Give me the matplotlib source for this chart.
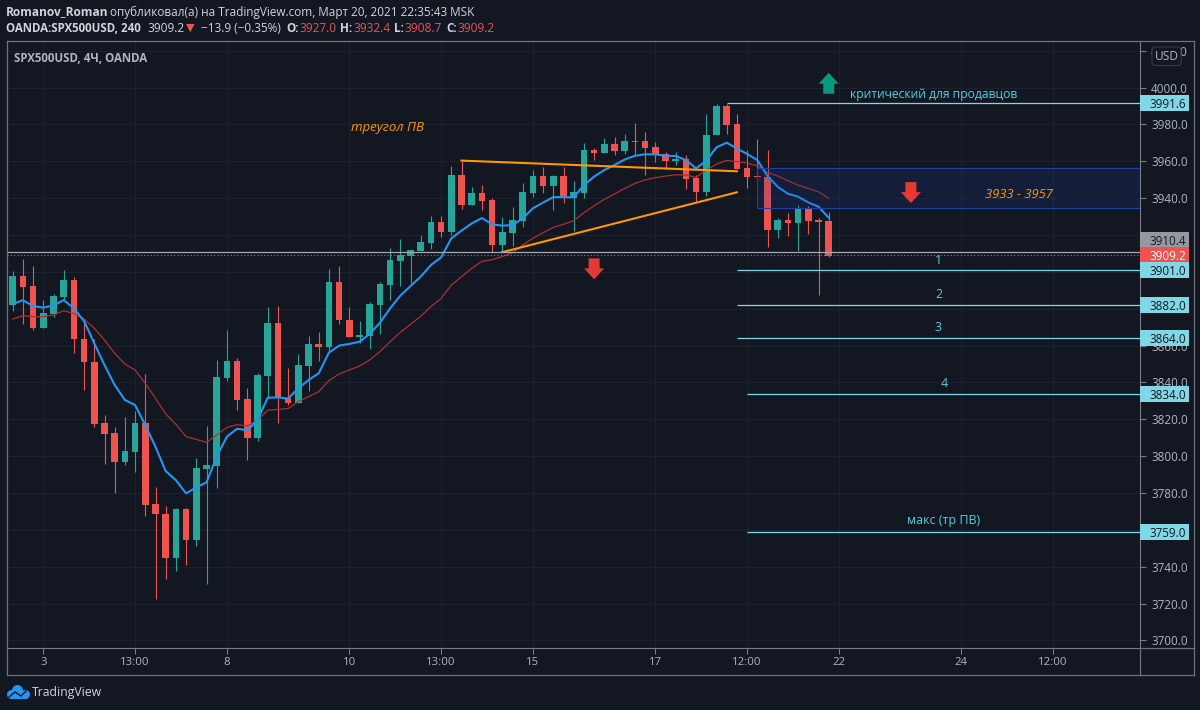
import matplotlib
matplotlib.use('Agg')
from matplotlib import pyplot as plt
from matplotlib.patches import Rectangle, FancyBboxPatch, Polygon, Circle
from matplotlib.transforms import blended_transform_factory

# свечи SPX500USD 4H
opens = [3882, 3897.8, 3892.2, 3869.5, 3877.1, 3886.5, 3895.8, 3863.6, 3851.1, 3818,
         3812.4, 3797, 3802.2, 3818, 3773.8, 3768.8, 3744.9, 3771.5, 3754.7, 3793.2,
         3794.8, 3842.6, 3851.8, 3831, 3810, 3843.7, 3872.1, 3831.4, 3829, 3849.1,
         3860.7, 3859, 3894.3, 3873.9, 3864.7, 3865.4, 3882, 3892.9, 3905.7, 3908.8,
         3911.3, 3915.7, 3926.9, 3921.8, 3952.8, 3936.3, 3942.8, 3938.8, 3914.8, 3921.3,
         3927.6, 3943, 3951.9, 3946.8, 3951.9, 3939.9, 3943, 3966.1, 3964.3, 3969.4,
         3965.6, 3971, 3971, 3967.8, 3964, 3960.2, 3961.2, 3950.8, 3943.5, 3974.1,
         3990, 3980.2, 3956.2, 3951.8, 3951.7, 3922.7, 3928.3, 3926.3, 3934.1, 3928,
         3927.4]
highs = [3900.5, 3906.8, 3903, 3884.7, 3887.8, 3900.8, 3897.2, 3874.4, 3863.6, 3822.1,
         3815.6, 3821.2, 3824.3, 3844.6, 3783.4, 3773.1, 3772, 3772, 3798.8, 3816.5,
         3852.2, 3868.5, 3853.3, 3836.8, 3844.9, 3880.8, 3881.5, 3847.6, 3855.4, 3865.2,
         3867.4, 3901.4, 3903.2, 3880.8, 3873.5, 3883.7, 3894.7, 3912.8, 3918, 3912.2,
         3920, 3930.5, 3930.3, 3957.3, 3960.4, 3945.9, 3947.2, 3940.3, 3929.6, 3935,
         3948, 3955.3, 3956.9, 3952.8, 3956.9, 3949.1, 3969.7, 3967, 3972.5, 3973.4,
         3974.8, 3980.6, 3976, 3970.5, 3965.2, 3965.2, 3963.4, 3952.6, 3985.7, 3990.9,
         3990.9, 3985.5, 3966.1, 3971.9, 3966.1, 3929.2, 3932.1, 3936.3, 3935.7, 3929,
         3932.4]
lows = [3879, 3871.5, 3868.4, 3869.5, 3875.7, 3884.7, 3856.2, 3835.9, 3815.6, 3795.9,
        3780, 3795.4, 3791.4, 3767.5, 3722.5, 3733.3, 3737.8, 3741.1, 3751.4, 3730.8,
        3782.5, 3841, 3825, 3798.1, 3808.4, 3832.3, 3818.2, 3827.9, 3829, 3835.4,
        3851.6, 3856.7, 3871.5, 3864.8, 3861.2, 3858.1, 3866.3, 3884.7, 3892.3, 3893.8,
        3911.3, 3912.4, 3918.7, 3920, 3934.3, 3936.3, 3933.6, 3911, 3910.6, 3914,
        3924.5, 3940.8, 3943, 3933.6, 3937.4, 3922.2, 3940.3, 3960.7, 3964.3, 3963.4,
        3963.8, 3962.9, 3952.6, 3959.8, 3956.2, 3958, 3944.8, 3938.1, 3941.4, 3974.1,
        3974.8, 3955.8, 3945.7, 3951.3, 3913.7, 3918.2, 3919.6, 3911.3, 3920.6, 3887.6,
        3908.2]
closes = [3897.8, 3891.8, 3869.5, 3877.5, 3886.9, 3895.8, 3863.4, 3850.9, 3817.6, 3812.2,
          3797, 3802.6, 3818, 3773.7, 3768.6, 3744.9, 3771.5, 3754.7, 3793.7, 3795.2,
          3843, 3851.8, 3830.6, 3810, 3844, 3872.1, 3831.9, 3829, 3849.6, 3860.7,
          3859, 3894.3, 3873.7, 3864.8, 3865.6, 3882.4, 3893.2, 3906.3, 3909.2, 3911.9,
          3916, 3926.9, 3921.8, 3952.8, 3936.3, 3942.8, 3938.5, 3914.6, 3921.6, 3928,
          3943.4, 3951.9, 3946.8, 3951.9, 3940.8, 3943.4, 3966.1, 3964.3, 3969.4, 3965.6,
          3971, 3970.5, 3967.2, 3963.4, 3960.2, 3961.2, 3950.2, 3943.5, 3974.5, 3990,
          3979.9, 3955.8, 3951.3, 3951.3, 3922.7, 3928.3, 3926.3, 3934.1, 3927.4, 3926.9,
          3908.8]

ma_fast = [3882.6, 3884.6, 3881.5, 3880.6, 3881.8, 3884.7, 3880.2, 3873.3, 3861.2, 3849.5,
           3838.6, 3830.5, 3827.7, 3816.9, 3805.1, 3791.9, 3787, 3779.8, 3783.1, 3785.8,
           3799.7, 3810.6, 3814.9, 3814, 3819.6, 3831.7, 3831.9, 3831.3, 3836.8, 3841.3,
           3845, 3856.2, 3860, 3860.9, 3862.1, 3866.3, 3872.4, 3880.2, 3887.1, 3892.3,
           3897.4, 3903.7, 3907.9, 3918.2, 3922.4, 3926.3, 3929.2, 3925.8, 3925.1, 3925.4,
           3929, 3934.5, 3937.6, 3940.6, 3940.5, 3940.5, 3947.1, 3951.7, 3955.3, 3958,
           3961, 3963, 3963.8, 3963.8, 3963, 3962.9, 3960.7, 3956.2, 3960.3, 3967.6,
           3970.1, 3967, 3964, 3960.7, 3952, 3946.2, 3942.4, 3940.8, 3937.7, 3935.4,
           3929.4]
ma_slow = [3874.4, 3876.2, 3875.7, 3875.7, 3876.6, 3878.9, 3877.5, 3874.4, 3869.4, 3863,
           3855.8, 3850, 3846.7, 3839.5, 3831.4, 3822.9, 3817.3, 3810.6, 3809.1, 3807.5,
           3811.5, 3815.6, 3817.1, 3816.4, 3819.6, 3824.9, 3825.4, 3825.8, 3829.6, 3832.3,
           3835, 3841, 3844.6, 3846.8, 3848.9, 3852.2, 3856.7, 3862.1, 3867.2, 3871.5,
           3876, 3881.1, 3885.6, 3892.9, 3897.4, 3901.9, 3905.7, 3906.6, 3908.3, 3910.4,
           3914.6, 3918.2, 3921.3, 3924.2, 3925.8, 3927.8, 3932.1, 3935.9, 3939.4, 3942.3,
           3945.3, 3948, 3949.9, 3951.1, 3952, 3952.7, 3952.6, 3951.3, 3955.3, 3958.5,
           3960.5, 3959.8, 3959.1, 3957.5, 3954, 3952, 3949.5, 3947.1, 3945.3, 3943.5,
           3939.9]

# подписи осей
x_tick_pos = [3, 12, 21, 33, 42, 51, 63, 72, 81, 93, 102]
x_tick_labels = ['3', '13:00', '8', '10', '13:00', '15', '17', '12:00', '22', '24', '12:00']
y_ticks = list(range(3700, 4021, 20))
y_hidden = [3760, 3880, 3900, 3920]  # полностью под плашками

# уровни: цена, с какой свечи начинается линия
levels = [3991.6, 3901.0, 3882.0, 3864.0, 3834.0, 3759.0]
level_start = [70, 71, 71, 71, 72, 72]
level_names = ['критический для продавцов', '1', '2', '3', '4', 'макс (тр ПВ)']

BG = '#131722'
GRID = '#1c212e'
AXIS = '#787b86'
TXT = '#b2b5be'
GREEN = '#26a69a'
RED = '#ef5350'
CYAN = '#80d8e6'
LABEL = '#4dd0e1'
ORANGE = '#ff9800'
HEAD = '#d1d4dc'

plt.rcParams['font.family'] = ['Open Sans', 'DejaVu Sans']

W, H = 1200, 710
fig = plt.figure(figsize=(W / 100, H / 100), dpi=100, facecolor=BG)

# слой в пикселях для шапки, рамки и логотипа
over = fig.add_axes([0, 0, 1, 1], zorder=5)
over.set_xlim(0, W)
over.set_ylim(H, 0)
over.axis('off')
over.patch.set_alpha(0)

LEFT, RIGHT, TOP, BOTTOM = 7, 1140, 41, 648
ax = fig.add_axes([LEFT / W, 1 - BOTTOM / H, (RIGHT - LEFT) / W, (BOTTOM - TOP) / H], facecolor=BG, zorder=1)
px_per_bar = 10.2
ax.set_xlim((LEFT - 12.7) / px_per_bar, (RIGHT - 12.7) / px_per_bar)
ax.set_ylim(3695.9, 4025.3)

for y in y_ticks:
    ax.axhline(y, color=GRID, lw=0.8, zorder=0)
for x in x_tick_pos:
    ax.axvline(x, color=GRID, lw=0.8, zorder=0)

idx = list(range(len(opens)))
colors = [GREEN if c >= o else RED for o, c in zip(opens, closes)]
ax.vlines(idx, lows, highs, colors=colors, lw=0.8, zorder=2)
ax.bar(idx, [max(abs(c - o), 0.8) for o, c in zip(opens, closes)],
       bottom=[min(o, c) for o, c in zip(opens, closes)],
       width=0.66, color=colors, lw=0, zorder=3)

ax.plot(idx, ma_slow, color='#a93232', lw=0.9, zorder=4)
ax.plot(idx, ma_fast, color='#2196f3', lw=1.5, zorder=5)

# зона продаж
ax.add_patch(Rectangle((73, 3934.5), 120, 21.7, facecolor='#1d3fa6', alpha=0.18, lw=0, zorder=6))
ax.hlines([3934.5, 3956.2], 73, 193, color='#1f3fae', lw=0.8, zorder=6)
ax.vlines(73, 3934.5, 3956.2, color='#1f3fae', lw=0.8, zorder=6)

# треугольник
ax.plot([44, 71], [3960.4, 3954.6], color=ORANGE, lw=1.5, zorder=7)
ax.plot([48, 71], [3910.7, 3943.2], color=ORANGE, lw=1.5, zorder=7)

# текущая цена
ax.axhline(3910.6, color='#a5a8b1', lw=0.9, zorder=7)
ax.axhline(3909.1, color=RED, lw=0.8, ls=(0, (1, 2)), zorder=7)

for price, start in zip(levels, level_start):
    ax.hlines(price, start, 193, color=CYAN, lw=0.9, zorder=7)


def arrow(x, y, color, up):
    # x в барах, y в цене центра стрелки
    sx = 1 / px_per_bar
    sy = 1 / 1.843
    d = 1 if up else -1
    pts = [(-5.5, -10), (5.5, -10), (5.5, 0), (10, 0), (0, 11), (-10, 0), (-5.5, 0)]
    ax.add_patch(Polygon([(x + p * sx, y + d * q * sy) for p, q in pts],
                         closed=True, facecolor=color, lw=0, zorder=8))


arrow(80, 4002.1, '#089981', True)
arrow(88.06, 3943.3, '#e53935', False)
arrow(57, 3901.9, '#e53935', False)

ax.text(82.1, 3996.5, level_names[0], color=LABEL, fontsize=8.7, va='center', zorder=8)
ax.text(33.2, 3978.6, 'треугол ПВ', color=ORANGE, fontsize=9.5, style='italic', va='center', zorder=8)
ax.text(95.3, 3942.2, '3933 - 3957', color=ORANGE, fontsize=9.4, style='italic', va='center', zorder=8)
ax.text(90.8, 3906.2, level_names[1], color=LABEL, fontsize=9, ha='center', va='center', zorder=8)
ax.text(90.8, 3887.8, level_names[2], color=LABEL, fontsize=9, ha='center', va='center', zorder=8)
ax.text(90.7, 3869.9, level_names[3], color=LABEL, fontsize=9, ha='center', va='center', zorder=8)
ax.text(91.3, 3839.5, level_names[4], color=LABEL, fontsize=9, ha='center', va='center', zorder=8)
ax.text(91.3, 3765.2, level_names[5], color=LABEL, fontsize=9, ha='center', va='center', zorder=8)

ax.set_xticks(x_tick_pos)
ax.set_xticklabels(x_tick_labels)
ax.set_yticks(y_ticks)
ax.set_yticklabels(['' if y in y_hidden else f'{y:.1f}' for y in y_ticks])
ax.yaxis.tick_right()
ax.tick_params(axis='x', labelcolor=TXT, length=4, width=0.8, color=AXIS, labelsize=8.2, pad=2.5)
ax.tick_params(axis='y', labelcolor=TXT, length=4, width=0.8, color=AXIS, labelsize=8.4, pad=4)
for side in ['top', 'left']:
    ax.spines[side].set_visible(False)
for side in ['right', 'bottom']:
    ax.spines[side].set_color(AXIS)
    ax.spines[side].set_linewidth(0.8)

# плашки цен на шкале: цена, где стоит плашка, фон, цвет текста
trans = blended_transform_factory(over.transData, ax.transData)
tag_prices = [3991.6, 3910.4, 3909.2, 3901.0, 3882.0, 3864.0, 3834.0, 3759.0]
tag_places = [3991.6, 3917.3, 3909.1, 3901.0, 3882.0, 3864.0, 3834.0, 3759.0]
tag_faces = [CYAN, '#9598a1', RED, CYAN, CYAN, CYAN, CYAN, CYAN]
tag_text = [BG, BG, 'white', BG, BG, BG, BG, BG]
for price, place, face, fg in zip(tag_prices, tag_places, tag_faces, tag_text):
    over.add_patch(Rectangle((1140, place - 8 / 1.843), 49, 16 / 1.843, facecolor=face, lw=0,
                             transform=trans, zorder=3))
    over.text(1149.5, place, f'{price:.1f}', color=fg, fontsize=8.4, va='center_baseline',
              transform=trans, zorder=4)

# USD
over.add_patch(FancyBboxPatch((1154, 49), 25, 14.5, boxstyle='round,pad=2,rounding_size=3',
                              facecolor=BG, edgecolor='#363a45', lw=0.8, zorder=6))
over.text(1166.5, 56, 'USD', color=TXT, fontsize=8.6, ha='center', va='center', zorder=7)

# рамка
FRAME = '#6f727c'
for xs, ys in [([6.5, 1193.5], [41, 41]), ([6.5, 6.5], [41, 674.5]),
               ([6.5, 1193.5], [674.5, 674.5]), ([1193.5, 1193.5], [41, 674.5]),
               ([1140, 1193.5], [648, 648]), ([1140, 1140], [648, 674.5])]:
    over.plot(xs, ys, color=FRAME, lw=0.9, zorder=2)

# шапка
over.text(6, 12, 'Romanov_Roman', color=HEAD, fontsize=8.55, weight='bold', va='center')
over.text(110, 12, 'опубликовал(а) на TradingView.com, Март 20, 2021 22:35:43 MSK', color=HEAD,
          fontsize=8.45, va='center')
over.text(6, 28, 'OANDA:SPX500USD, 240', color=HEAD, fontsize=8.3, weight='bold', va='center')
over.text(147, 28, '3909.2', color=HEAD, fontsize=8.6, va='center')
over.text(186, 28, '▼', color=RED, fontsize=8, va='center')
over.text(201, 28, '−13.9 (−0.35%)', color=HEAD, fontsize=8.5, va='center')
for x_label, label, x_val, val in [(286, 'O:', 299, '3927.0'), (340, 'H:', 353, '3932.4'),
                                   (394, 'L:', 404, '3908.7'), (446, 'C:', 457, '3909.2')]:
    over.text(x_label, 28, label, color=HEAD, fontsize=8.5, weight='bold', va='center')
    over.text(x_val, 28, val, color=RED, fontsize=8.6, va='center')
over.text(14, 58, 'SPX500USD, 4Ч, OANDA', color=TXT, fontsize=8.3, weight='bold', va='center')

# логотип
LOGO = '#2196f3'
for cx, cy, r in [(11.5, 694.5, 4.5), (17.5, 690.5, 5.5), (25.5, 694.5, 4.5)]:
    over.add_patch(Circle((cx, cy), r, facecolor=LOGO, lw=0))
over.add_patch(Rectangle((11, 692), 15, 7, facecolor=LOGO, lw=0))
over.plot([9, 15, 21, 26], [697, 692, 696, 691], color=BG, lw=1.0)
over.text(32, 692.5, 'TradingView', color=HEAD, fontsize=8.8, va='center')

fig.savefig('out.png', dpi=100, facecolor=BG)
